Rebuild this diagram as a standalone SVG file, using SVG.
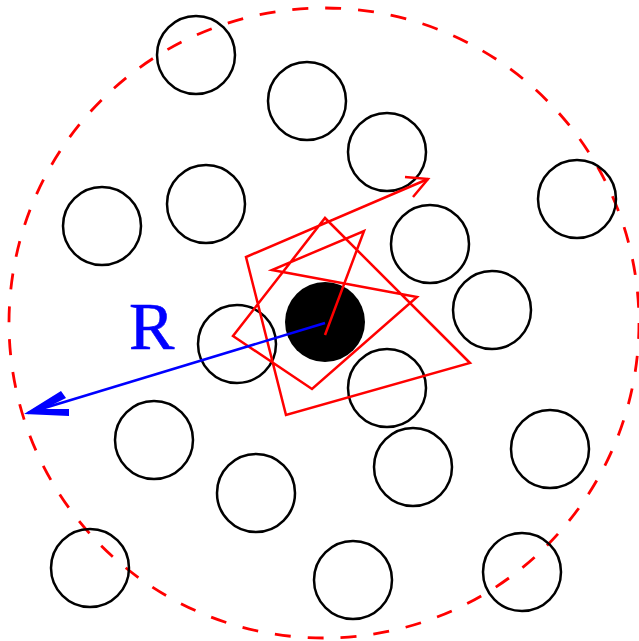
<svg xmlns="http://www.w3.org/2000/svg" width="639" height="641" viewBox="0 0 639 641">
<style>
.c{fill:none;stroke:#000;stroke-width:2.5}
.red{fill:none;stroke:#ff0000;stroke-width:2.5;stroke-linejoin:miter}
</style>
<rect width="639" height="641" fill="#fff"/>
<g id="boundary"><ellipse cx="324" cy="323" rx="315" ry="315" fill="none" stroke="#ff0000" stroke-width="2.8" stroke-dasharray="16,17"/></g>
<g id="obstacles">
<circle id="n1" class="c" cx="196" cy="55" r="39"/>
<circle id="n2" class="c" cx="307" cy="101" r="39"/>
<circle id="n3" class="c" cx="387" cy="152" r="39"/>
<circle id="n4" class="c" cx="102" cy="226" r="39"/>
<circle id="n5" class="c" cx="206" cy="204" r="39"/>
<circle id="n6" class="c" cx="577" cy="199" r="39"/>
<circle id="n7" class="c" cx="430" cy="244" r="39"/>
<circle id="n8" class="c" cx="492" cy="310" r="39"/>
<circle id="n9" class="c" cx="237" cy="344" r="39"/>
<circle id="n10" class="c" cx="387" cy="388" r="39"/>
<circle id="n11" class="c" cx="154" cy="440" r="39"/>
<circle id="n12" class="c" cx="256" cy="493" r="39"/>
<circle id="n13" class="c" cx="413" cy="467" r="39"/>
<circle id="n14" class="c" cx="550" cy="449" r="39"/>
<circle id="n15" class="c" cx="90" cy="568" r="39"/>
<circle id="n16" class="c" cx="353" cy="580" r="39"/>
<circle id="n17" class="c" cx="522" cy="572" r="39"/>
</g>
<g id="particle"><circle cx="325" cy="322" r="40" fill="#000"/></g>
<g id="connectors">
<polyline class="red" points="325,335 364,231 272,270 417,297 312,389 233,336 325,218 470,363 286,415 246,257 428,179"/>
<polyline class="red" points="405,177 428,179 413,197"/>
<line x1="325" y1="323" x2="28" y2="413" stroke="#0000ff" stroke-width="2.5"/>
<polygon points="24,414 61,391 66,398 44,409 69,409 69,416" fill="#0000ff"/>
</g>
<text x="129" y="349" font-family="Liberation Serif, serif" font-size="68" fill="#0000ff" stroke="#0000ff" stroke-width="0.6">R</text>
</svg>
